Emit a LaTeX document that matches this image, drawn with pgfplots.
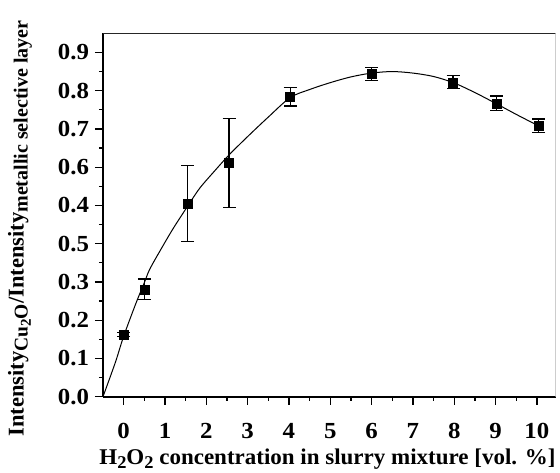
\documentclass[border=0pt]{standalone}
\usepackage{graphicx}
\usepackage{pgfplots}
\pgfplotsset{compat=1.18}
\usepackage{fontspec}
\setmainfont{Liberation Serif}
\begin{document}
\begin{tikzpicture}
\begin{axis}[
  scale only axis,
  width=452.5pt, height=363.4pt,
  xmin=-0.5, xmax=10.45,
  ymin=0, ymax=0.95,
  axis x line*=bottom, axis y line*=left,
  xtick={0,1,2,3,4,5,6,7,8,9,10},
  xticklabels={0,1,2,3,4,5,6,7,8,9,10},
  ytick={0,0.1,0.2,0.3,0.4,0.5,0.6,0.7,0.8,0.9},
  yticklabels={0.0,0.1,0.2,0.3,0.5,0.4,0.6,0.7,0.8,0.9},
  minor x tick num=1, minor y tick num=1,
  tick pos=left, tick align=outside,
  major tick length=8pt, minor tick length=4pt,
  every tick/.style={black, line width=1.3pt},
  axis line style={line width=1.8pt, -},
  tick label style={font=\fontsize{23}{27}\selectfont\bfseries, xscale=1.08},
  xticklabel style={anchor=center, yshift=-26pt},
  yticklabel style={anchor=east, xshift=-2pt},
  label style={font=\fontsize{22.5}{26}\selectfont\bfseries},
  xlabel={\scalebox{1.022}[1]{H\raisebox{-0.45ex}{\fontsize{18}{18}\selectfont 2}O\raisebox{-0.45ex}{\fontsize{18}{18}\selectfont 2} concentration in slurry mixture [vol. \%]}},
  ylabel={Intensity\raisebox{-0.4ex}{\fontsize{19.5}{19}\selectfont Cu\raisebox{-0.35ex}{\fontsize{15}{15}\selectfont 2}O}/Intensity\raisebox{-0.4ex}{\fontsize{20}{19}\selectfont metallic selective layer}},
  xlabel style={at={(axis description cs:0.496,-0.171)}, anchor=center},
  ylabel style={at={(axis description cs:-0.1834,0.463)}, anchor=center},
]
\draw[black!85, line width=1.2pt] (rel axis cs:0,1) -- (rel axis cs:1,1);
\draw[black!30, line width=0.8pt] (rel axis cs:1,0) -- (rel axis cs:1,1);
\addplot[black, line width=1pt, smooth, tension=0.5] coordinates {
(-0.5,0) (-0.2,0.09) (0,0.158) (0.3,0.245) (0.5,0.298) (0.63,0.333) (0.9,0.385) (1.2,0.44) (1.56,0.5) (1.84,0.545) (2.2,0.59) (2.55,0.632) (3.0,0.68) (3.5,0.731) (4.03,0.782) (4.5,0.803) (5,0.821) (5.5,0.836) (6,0.846) (6.5,0.85) (7,0.846) (7.5,0.837) (8,0.82) (8.5,0.795) (9,0.767) (9.5,0.738) (10.04,0.708)
};
\addplot[black, only marks, mark=square*, mark size=4.5pt,
  error bars/.cd, y dir=both, y explicit,
  error bar style={line width=1.3pt},
  error mark options={rotate=90, mark size=6.5pt, line width=1.3pt}]
  coordinates {
(0,0.163) +- (0,0.005)
(0.5,0.281) +- (0,0.027)
(1.55,0.505) +- (0,0.10)
(2.55,0.611) +- (0,0.117)
(4.03,0.784) +- (0,0.024)
(6.0,0.844) +- (0,0.017)
(7.97,0.822) +- (0,0.017)
(9.02,0.767) +- (0,0.019)
(10.04,0.708) +- (0,0.018)
};
\end{axis}
\pgfresetboundingbox
\path[use as bounding box] ([xshift=-103pt,yshift=-76.3pt]current axis.south west) rectangle ([xshift=4.5pt,yshift=33.3pt]current axis.north east);
\end{tikzpicture}
\end{document}
